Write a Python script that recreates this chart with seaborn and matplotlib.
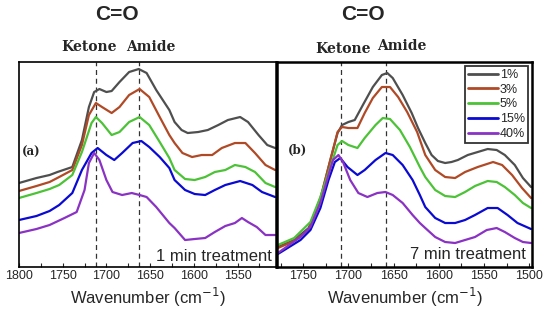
import numpy as np
import pandas as pd
import matplotlib
matplotlib.use("Agg")
import matplotlib.pyplot as plt
import seaborn as sns

# ------------------------------------------------------------
# data (wavenumber in cm-1, absorbance a.u.)
# ------------------------------------------------------------
CONCS = ['1%', '3%', '5%', '15%', '40%']
COLORS = ['#4f4f4f', '#b04a26', '#4cc236', '#0a0ad2', '#8a32c4']

# --- (a) 1 min treatment ---
wn_1min_1 = [1800, 1780, 1765, 1756, 1739, 1728, 1720, 1714, 1708, 1700, 1694, 1685, 1674, 1663,
             1654, 1643, 1628, 1622, 1614, 1607, 1595, 1584, 1572, 1561, 1547, 1538, 1526, 1516, 1507]
ab_1min_1 = [0.84, 0.89, 0.92, 0.95, 1.00, 1.27, 1.60, 1.75, 1.78, 1.75, 1.76, 1.85, 1.95, 1.98,
             1.94, 1.77, 1.57, 1.45, 1.37, 1.34, 1.35, 1.37, 1.42, 1.47, 1.50, 1.45, 1.32, 1.22, 1.19]
wn_1min_3 = [1800, 1780, 1765, 1754, 1739, 1728, 1720, 1712, 1705, 1694, 1685, 1674, 1662, 1651,
             1639, 1628, 1622, 1613, 1602, 1591, 1579, 1568, 1553, 1541, 1530, 1518, 1507]
ab_1min_3 = [0.76, 0.81, 0.85, 0.90, 0.97, 1.22, 1.52, 1.64, 1.60, 1.54, 1.60, 1.72, 1.78, 1.70,
             1.50, 1.32, 1.24, 1.14, 1.10, 1.12, 1.12, 1.19, 1.24, 1.24, 1.14, 1.02, 0.97]
wn_1min_5 = [1800, 1780, 1765, 1754, 1739, 1728, 1717, 1712, 1705, 1694, 1685, 1674, 1662, 1651,
             1639, 1628, 1622, 1610, 1599, 1587, 1576, 1564, 1553, 1541, 1530, 1518, 1507]
ab_1min_5 = [0.69, 0.74, 0.78, 0.82, 0.92, 1.15, 1.44, 1.50, 1.44, 1.32, 1.35, 1.45, 1.50, 1.42,
             1.25, 1.09, 0.97, 0.88, 0.87, 0.90, 0.95, 0.97, 1.02, 1.00, 0.95, 0.84, 0.80]
wn_1min_15 = [1800, 1780, 1765, 1754, 1739, 1728, 1717, 1710, 1700, 1691, 1682, 1670, 1660, 1651,
              1639, 1628, 1622, 1610, 1599, 1587, 1576, 1564, 1547, 1533, 1522, 1507]
ab_1min_15 = [0.47, 0.51, 0.56, 0.62, 0.74, 0.97, 1.14, 1.19, 1.12, 1.07, 1.14, 1.24, 1.26, 1.20,
              1.10, 0.99, 0.87, 0.77, 0.73, 0.72, 0.77, 0.82, 0.86, 0.82, 0.75, 0.70]
wn_1min_40 = [1800, 1780, 1765, 1748, 1734, 1725, 1720, 1714, 1708, 1700, 1693, 1682, 1671, 1662,
              1654, 1643, 1628, 1622, 1610, 1599, 1587, 1576, 1564, 1553, 1545, 1538, 1528, 1518, 1507]
ab_1min_40 = [0.34, 0.38, 0.42, 0.49, 0.55, 0.77, 1.04, 1.14, 1.07, 0.87, 0.75, 0.72, 0.74, 0.72,
              0.70, 0.60, 0.44, 0.39, 0.27, 0.28, 0.29, 0.35, 0.41, 0.44, 0.49, 0.45, 0.40, 0.32, 0.32]

# --- (b) 7 min treatment ---
wn_7min_1 = [1778, 1760, 1744, 1731, 1720, 1712, 1707, 1700, 1693, 1684, 1673, 1663, 1657, 1651,
             1640, 1630, 1623, 1615, 1608, 1601, 1593, 1586, 1579, 1568, 1557, 1546, 1536, 1527,
             1516, 1507, 1498]
ab_7min_1 = [0.20, 0.27, 0.39, 0.67, 1.07, 1.34, 1.42, 1.45, 1.47, 1.62, 1.80, 1.92, 1.94, 1.89,
             1.72, 1.54, 1.39, 1.24, 1.12, 1.06, 1.04, 1.05, 1.07, 1.12, 1.15, 1.18, 1.17, 1.12,
             1.02, 0.89, 0.80]
wn_7min_3 = [1778, 1760, 1744, 1731, 1720, 1712, 1707, 1700, 1690, 1682, 1673, 1663, 1654, 1645,
             1635, 1624, 1615, 1604, 1593, 1582, 1571, 1557, 1540, 1530, 1519, 1508, 1498]
ab_7min_3 = [0.19, 0.26, 0.37, 0.69, 1.07, 1.35, 1.40, 1.39, 1.39, 1.54, 1.69, 1.80, 1.80, 1.70,
             1.55, 1.35, 1.12, 0.97, 0.90, 0.89, 0.95, 1.00, 1.05, 1.02, 0.92, 0.79, 0.69]
wn_7min_5 = [1778, 1760, 1742, 1731, 1720, 1712, 1707, 1700, 1690, 1682, 1670, 1662, 1654, 1643,
             1632, 1621, 1615, 1604, 1593, 1582, 1571, 1560, 1546, 1536, 1527, 1516, 1507, 1498]
ab_7min_5 = [0.22, 0.29, 0.45, 0.70, 1.00, 1.22, 1.26, 1.22, 1.19, 1.29, 1.42, 1.49, 1.48, 1.37,
             1.20, 1.00, 0.90, 0.77, 0.71, 0.70, 0.75, 0.81, 0.86, 0.85, 0.80, 0.72, 0.64, 0.59]
wn_7min_15 = [1778, 1753, 1742, 1731, 1722, 1715, 1709, 1701, 1690, 1682, 1670, 1659, 1651, 1640,
              1629, 1621, 1615, 1604, 1593, 1582, 1571, 1560, 1546, 1535, 1524, 1513, 1498]
ab_7min_15 = [0.13, 0.27, 0.37, 0.59, 0.87, 1.05, 1.09, 1.00, 0.92, 0.97, 1.07, 1.14, 1.12, 1.02,
              0.87, 0.72, 0.60, 0.49, 0.44, 0.44, 0.47, 0.52, 0.59, 0.59, 0.52, 0.44, 0.38]
wn_7min_40 = [1778, 1753, 1742, 1731, 1722, 1717, 1711, 1706, 1698, 1689, 1679, 1668, 1659, 1651,
              1640, 1629, 1621, 1615, 1604, 1593, 1582, 1571, 1560, 1547, 1536, 1527, 1516, 1507, 1498]
ab_7min_40 = [0.14, 0.30, 0.40, 0.64, 0.92, 1.07, 1.12, 1.05, 0.87, 0.74, 0.70, 0.74, 0.75, 0.72,
              0.64, 0.52, 0.44, 0.39, 0.30, 0.25, 0.24, 0.27, 0.30, 0.37, 0.39, 0.35, 0.29, 0.25, 0.24]

# dashed marker lines (ketone / amide C=O)
PEAKS_1MIN = [1712, 1663]
PEAKS_7MIN = [1708, 1658]


def build_df(wns, abss):
    rows = []
    for conc, wn, ab in zip(CONCS, wns, abss):
        for w, a in zip(wn, ab):
            rows.append({'wn': w, 'abs': a, 'conc': conc})
    return pd.DataFrame(rows)


df_1min = build_df([wn_1min_1, wn_1min_3, wn_1min_5, wn_1min_15, wn_1min_40],
                   [ab_1min_1, ab_1min_3, ab_1min_5, ab_1min_15, ab_1min_40])
df_7min = build_df([wn_7min_1, wn_7min_3, wn_7min_5, wn_7min_15, wn_7min_40],
                   [ab_7min_1, ab_7min_3, ab_7min_5, ab_7min_15, ab_7min_40])

sns.set_style("white")
plt.rcParams['font.family'] = ['Liberation Sans', 'DejaVu Sans']

fig = plt.figure(figsize=(5.5, 3.2), dpi=100)
ax_a = fig.add_axes([0.0345, 0.1656, 0.4673, 0.6406])
ax_b = fig.add_axes([0.5036, 0.1656, 0.4636, 0.6406])

palette = dict(zip(CONCS, COLORS))

panels = [(ax_a, df_1min, PEAKS_1MIN, (1800, 1506), np.arange(1550, 1801, 50), 1.2),
          (ax_b, df_7min, PEAKS_7MIN, (1779, 1497), np.arange(1500, 1751, 50), 1.8)]
for ax, df, peaks, xlim, ticks, spine_w in panels:
    sns.lineplot(data=df, x='wn', y='abs', hue='conc', palette=palette, hue_order=CONCS,
                 estimator=None, sort=False, lw=1.6, ax=ax, legend=(ax is ax_b),
                 solid_joinstyle='round', solid_capstyle='round')
    for p in peaks:
        ax.axvline(p, color='#333333', ls=(0, (4, 3)), lw=0.9, zorder=0)
    ax.set_xlim(*xlim)
    ax.set_ylim(0, 2.05)
    ax.set_yticks([])
    ax.set_ylabel('')
    ax.set_xticks(ticks)
    ax.set_xticks([t for t in np.arange(1500, 1801, 25) if min(xlim) <= t <= max(xlim)], minor=True)
    ax.tick_params(axis='x', which='both', direction='in', length=3, width=0.8,
                   labelsize=9, pad=2, bottom=True)
    ax.set_xlabel('Wavenumber (cm$^{-1}$)', fontsize=12, labelpad=3)
    for s in ax.spines.values():
        s.set_color('black')
        s.set_linewidth(spine_w)

ax_a.spines['right'].set_linewidth(1.8)

# legend (right panel only)
handles, labels = ax_b.get_legend_handles_labels()
leg = ax_b.legend(handles, labels, loc='upper right', fontsize=9, frameon=True, fancybox=False,
                  handlelength=2.4, handletextpad=0.15, labelspacing=0.22, borderpad=0.25,
                  borderaxespad=0.3)
leg.get_frame().set_edgecolor('black')
leg.get_frame().set_linewidth(1.3)
for line in leg.get_lines():
    line.set_linewidth(2.0)

# panel annotations
ax_a.text(0.985, 0.05, '1 min treatment', transform=ax_a.transAxes, ha='right', va='center',
          fontsize=12)
ax_b.text(0.975, 0.06, '7 min treatment', transform=ax_b.transAxes, ha='right', va='center',
          fontsize=12)
ax_a.text(0.012, 0.56, '(a)', transform=ax_a.transAxes, ha='left', va='center',
          fontsize=8.5, fontweight='bold', family='DejaVu Serif')
ax_b.text(0.043, 0.57, '(b)', transform=ax_b.transAxes, ha='left', va='center',
          fontsize=8.5, fontweight='bold', family='DejaVu Serif')

# headers above the panels
fig.text(117 / 550, 1 - 15 / 320, 'C=O', ha='center', va='center', fontsize=15, fontweight='bold')
fig.text(363 / 550, 1 - 15 / 320, 'C=O', ha='center', va='center', fontsize=15, fontweight='bold')
for x, y, s in [(89.5, 47, 'Ketone'), (151, 47, 'Amide'), (343, 49, 'Ketone'), (402, 46, 'Amide')]:
    fig.text(x / 550, 1 - y / 320, s, ha='center', va='center', fontsize=10, fontweight='bold',
             family='DejaVu Serif')

fig.savefig('out.png', dpi=100)
